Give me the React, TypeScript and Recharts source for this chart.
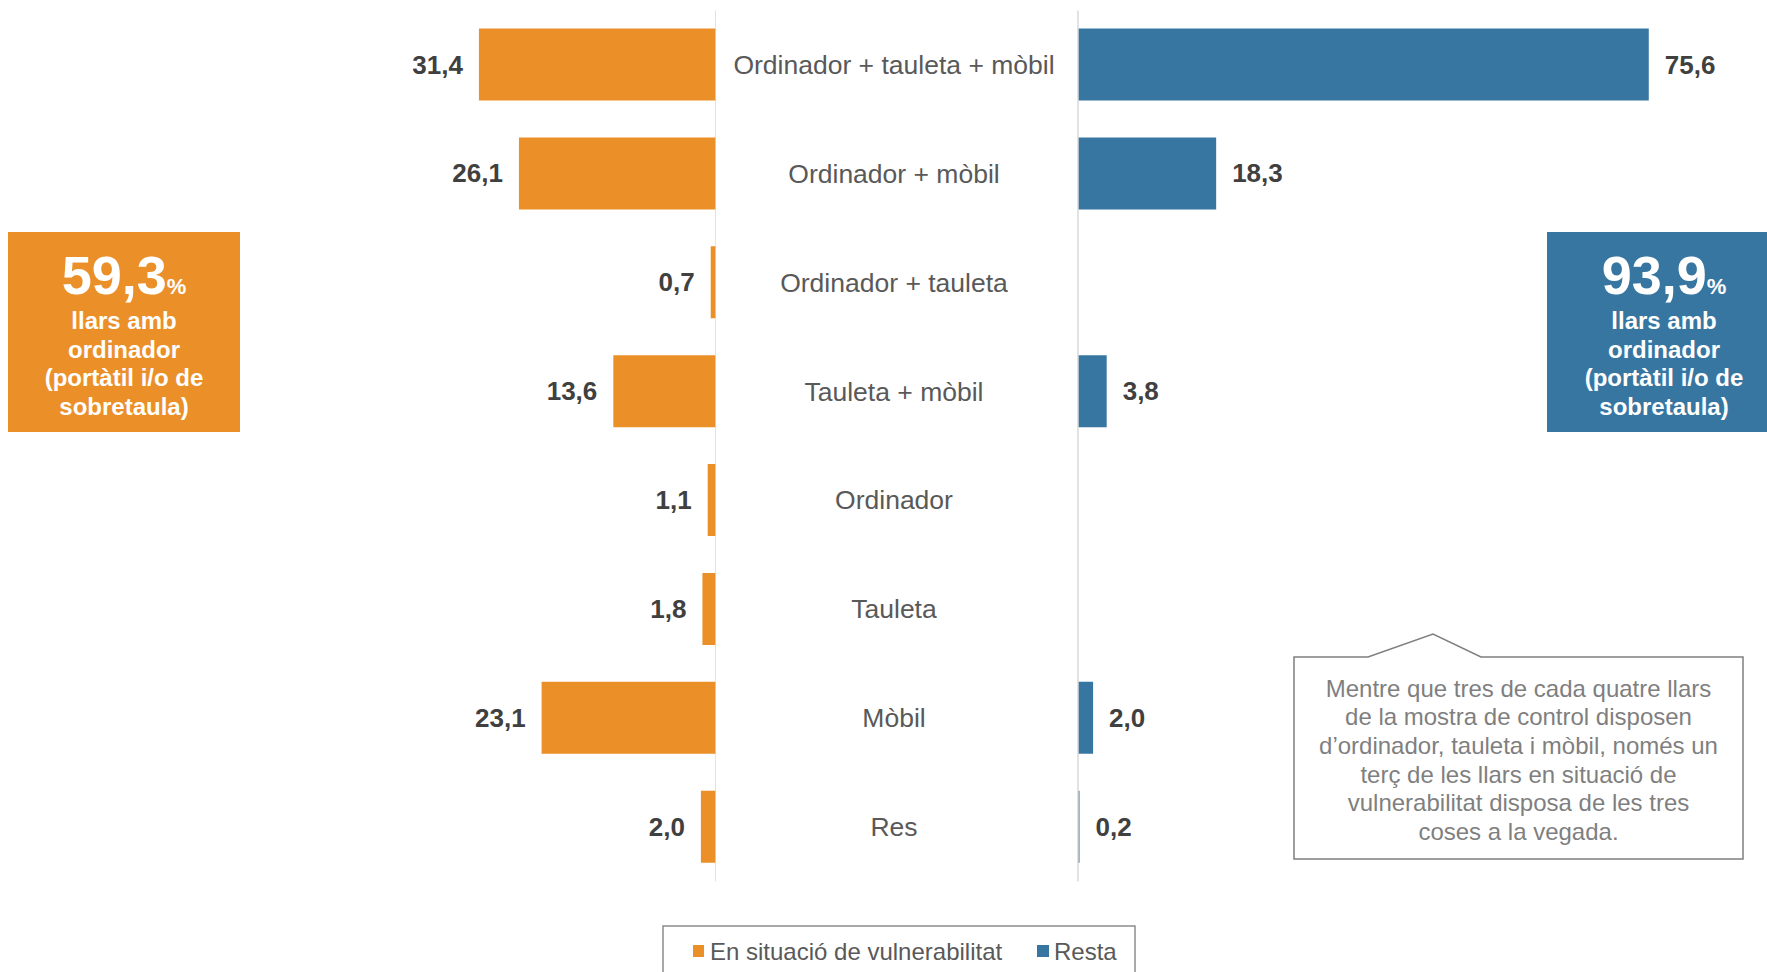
import { Bar, BarChart, LabelList, ReferenceLine, XAxis, YAxis } from "recharts";

const categories = [
  "Ordinador + tauleta + mòbil",
  "Ordinador + mòbil",
  "Ordinador + tauleta",
  "Tauleta + mòbil",
  "Ordinador",
  "Tauleta",
  "Mòbil",
  "Res",
];
const vulnerable = [31.4, 26.1, 0.7, 13.6, 1.1, 1.8, 23.1, 2.0];
const resta: (number | null)[] = [75.6, 18.3, null, 3.8, null, null, 2.0, 0.2];

const seriesNames = ["En situació de vulnerabilitat", "Resta"];
const calloutLines = [
  "Mentre que tres de cada quatre llars",
  "de la mostra de control disposen",
  "d’ordinador, tauleta i mòbil, només un",
  "terç de les llars en situació de",
  "vulnerabilitat disposa de les tres",
  "coses a la vegada.",
];
const boxLines = ["llars amb", "ordinador", "(portàtil i/o de", "sobretaula)"];

const ORANGE = "#EB8F29";
const BLUE = "#3776A0";
const FONT = "'Liberation Sans', Arial, sans-serif";

const rows = categories.map((cat, i) => ({ cat, vul: vulnerable[i], rest: resta[i] }));

const fmt = (v: number) => v.toFixed(1).replace(".", ",");

const CHART_H = 890;
const MARGIN_TOP = 10.5;
const MARGIN_BOTTOM = 8.5;

function LeftValue(props: any) {
  const { x, y, width, height, value } = props;
  if (value == null) return null;
  const left = Math.min(Number(x), Number(x) + Number(width));
  return (
    <text x={left - 16} y={Number(y) + Number(height) / 2} textAnchor="end" dominantBaseline="central"
      fontSize={26} fontWeight="bold" fill="#404040" fontFamily={FONT}>
      {fmt(value)}
    </text>
  );
}

function RightValue(props: any) {
  const { x, y, width, height, value } = props;
  if (value == null) return null;
  const right = Math.max(Number(x), Number(x) + Number(width));
  return (
    <text x={right + 16} y={Number(y) + Number(height) / 2} textAnchor="start" dominantBaseline="central"
      fontSize={26} fontWeight="bold" fill="#404040" fontFamily={FONT}>
      {fmt(value)}
    </text>
  );
}

function CategoryTick({ y, payload }: any) {
  return (
    <text x={178} y={y} textAnchor="middle" dominantBaseline="central" fontSize={26.5} fill="#595959" fontFamily={FONT}>
      {payload.value}
    </text>
  );
}

function InfoBox({ left, width, color, value }: { left: number; width: number; color: string; value: string }) {
  return (
    <div style={{ position: "absolute", left, top: 232, width, height: 200, background: color, color: "#fff",
      fontWeight: "bold", textAlign: "center" }}>
      <div style={{ position: "absolute", top: 14, left: 0, right: 0, fontSize: 54, lineHeight: "58px" }}>
        {value}<span style={{ fontSize: 22 }}>%</span>
      </div>
      <div style={{ position: "absolute", top: 75, left: 0, right: 0, fontSize: 24, lineHeight: "28.5px" }}>
        {boxLines.map((l) => <div key={l}>{l}</div>)}
      </div>
    </div>
  );
}

export default function App() {
  return (
    <div style={{ position: "relative", width: 1767, height: 972, overflow: "hidden", background: "#fff", fontFamily: FONT }}>
      <style>{`body{margin:0}`}</style>

      <div style={{ position: "absolute", left: 0, top: 0 }}>
        <BarChart width={716} height={CHART_H} data={rows} layout="vertical"
          margin={{ top: MARGIN_TOP, right: 0, bottom: MARGIN_BOTTOM, left: 112 }} barSize={72}>
          <XAxis type="number" domain={[0, 80]} reversed hide />
          <YAxis type="category" dataKey="cat" hide />
          <Bar dataKey="vul" fill={ORANGE} isAnimationActive={false}>
            <LabelList dataKey="vul" content={<LeftValue />} />
          </Bar>
          <ReferenceLine x={0} stroke="#d9d9d9" strokeWidth={1.5} />
        </BarChart>
      </div>

      <div style={{ position: "absolute", left: 715.6, top: 0 }}>
        <BarChart width={1052} height={CHART_H} data={rows} layout="vertical"
          margin={{ top: MARGIN_TOP, right: 86, bottom: MARGIN_BOTTOM, left: 0 }} barSize={72}>
          <XAxis type="number" domain={[0, 80]} hide />
          <YAxis type="category" dataKey="cat" width={362} axisLine={false} tickLine={false} tick={<CategoryTick />} />
          <Bar dataKey="rest" fill={BLUE} isAnimationActive={false}>
            <LabelList dataKey="rest" content={<RightValue />} />
          </Bar>
          <ReferenceLine x={0} stroke="#d9d9d9" strokeWidth={1.5} />
        </BarChart>
      </div>

      <InfoBox left={8} width={232} color={ORANGE} value="59,3" />
      <InfoBox left={1547} width={234} color={BLUE} value="93,9" />

      <svg width={1767} height={972} style={{ position: "absolute", left: 0, top: 0, pointerEvents: "none" }}>
        <path d="M1294,657 L1368,657 L1433,634 L1481,657 L1743,657 L1743,859 L1294,859 Z"
          fill="#fff" stroke="#7f7f7f" strokeWidth={1.5} />
        {calloutLines.map((l, i) => (
          <text key={l} x={1518.5} y={688 + i * 28.7} textAnchor="middle" dominantBaseline="central"
            fontSize={24} fill="#7f7f7f" fontFamily={FONT}>{l}</text>
        ))}

        <rect x={663} y={926} width={472} height={60} fill="#fff" stroke="#8c8c8c" strokeWidth={1.5} />
        <rect x={693} y={945} width={11} height={12} fill={ORANGE} />
        <text x={710} y={951} dominantBaseline="central" fontSize={24} fill="#595959" fontFamily={FONT}>{seriesNames[0]}</text>
        <rect x={1037} y={945} width={12} height={12} fill={BLUE} />
        <text x={1054} y={951} dominantBaseline="central" fontSize={24} fill="#595959" fontFamily={FONT}>{seriesNames[1]}</text>
      </svg>
    </div>
  );
}
